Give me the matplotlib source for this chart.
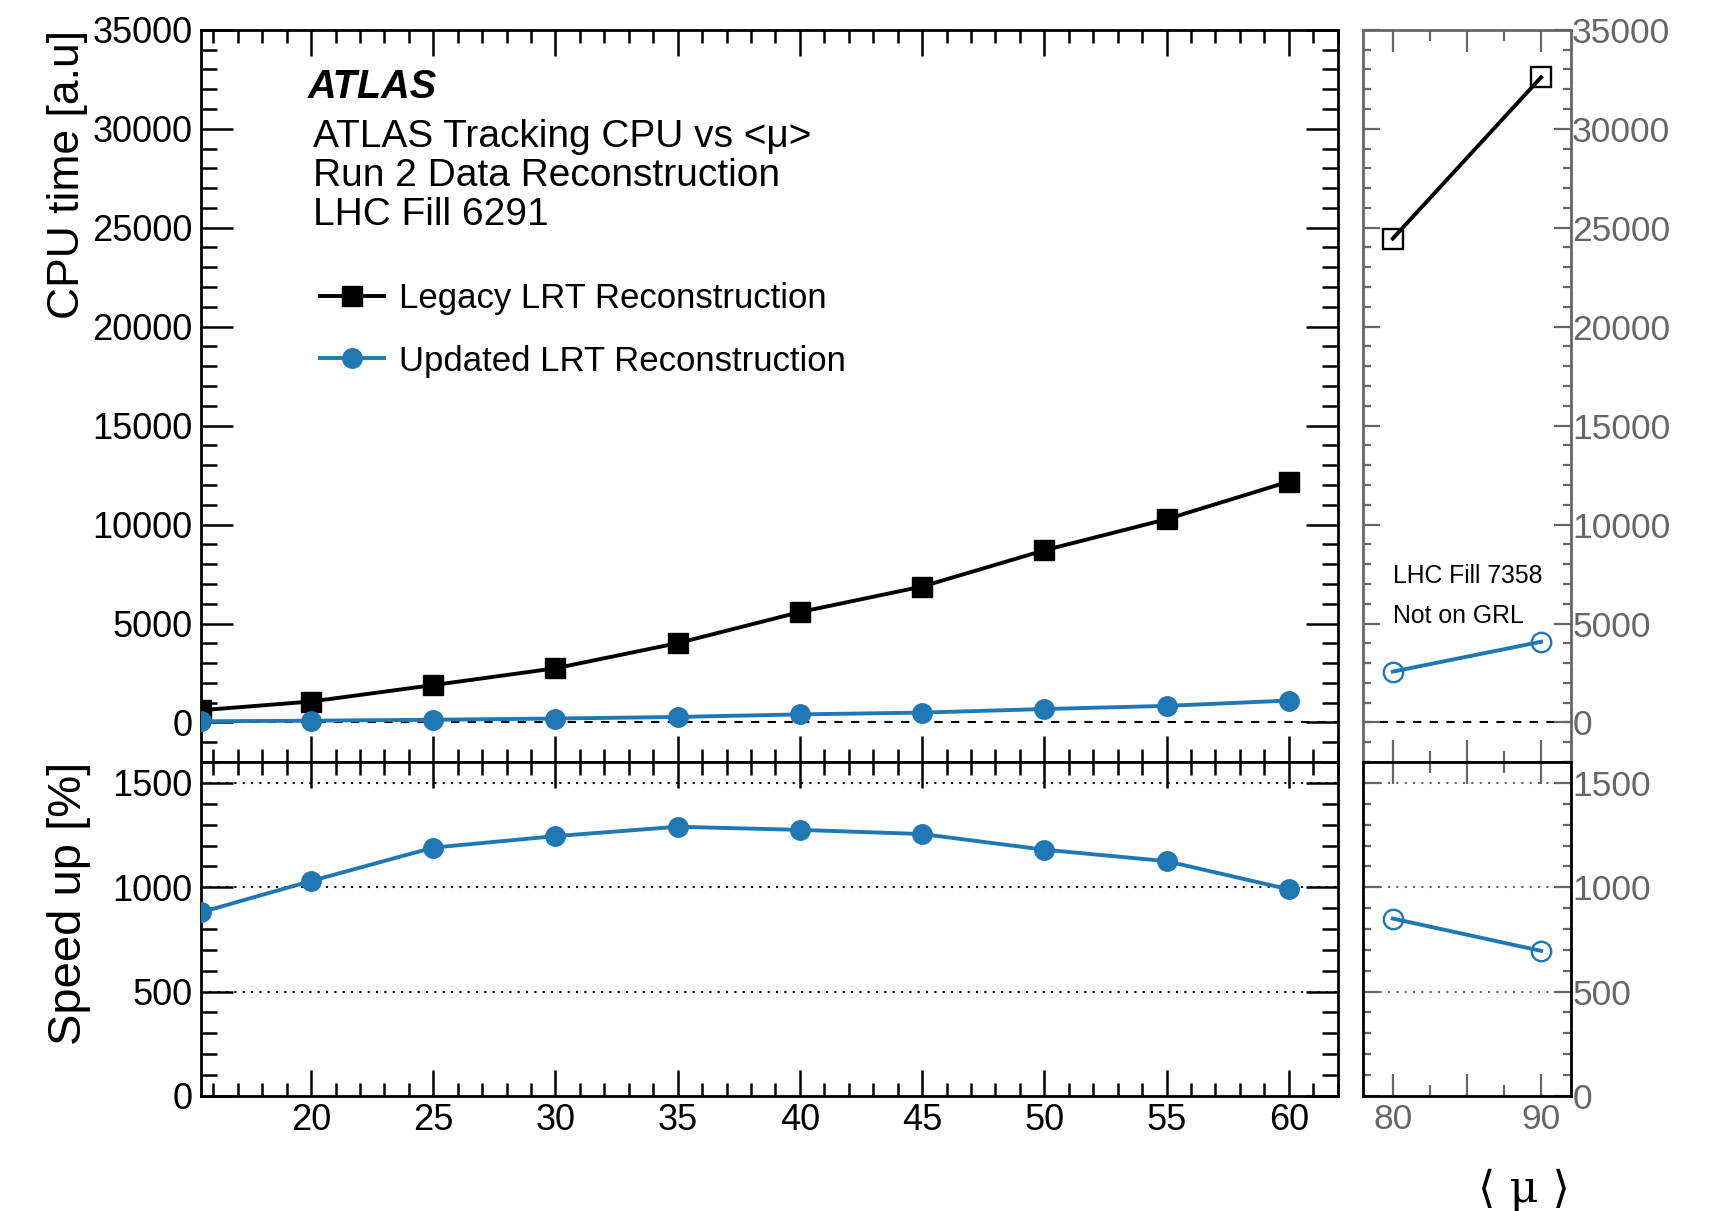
import matplotlib
matplotlib.use("Agg")
import matplotlib.pyplot as plt
from matplotlib.ticker import MultipleLocator, FixedLocator, NullFormatter

# LHC Fill 6291 scan
mu_fill6291 = [15.5, 20, 25, 30, 35, 40, 45, 50, 55, 60]
cpu_legacy = [620, 1060, 1890, 2740, 4010, 5580, 6870, 8700, 10270, 12170]
cpu_updated = [60, 90, 140, 200, 280, 410, 500, 680, 840, 1110]
speedup = [880, 1030, 1190, 1245, 1290, 1275, 1255, 1180, 1125, 990]

# LHC Fill 7358 (high pile-up)
mu_fill7358 = [80, 90]
cpu_legacy_7358 = [24450, 32600]
cpu_updated_7358 = [2570, 4080]
speedup_7358 = [850, 695]

x_ticks_main = [20, 25, 30, 35, 40, 45, 50, 55, 60]
x_ticks_high = [80, 85, 90]
x_labels_high = ["80", "", "90"]

BLUE = "#1f77b4"
GREY = "#666666"
LW = 2.8
MS = 14

plt.rcParams["font.family"] = ["Liberation Sans", "DejaVu Sans"]

fig = plt.figure(figsize=(17.32, 12.11), dpi=100)
L, W = 0.1161, 0.6562
RL, RW = 0.787, 0.1199
B_TOP, H_TOP = 0.3707, 0.6047
B_BOT, H_BOT = 0.0951, 0.2756

ax_top = fig.add_axes([L, B_TOP, W, H_TOP])
ax_bot = fig.add_axes([L, B_BOT, W, H_BOT])
ax_rtop = fig.add_axes([RL, B_TOP, RW, H_TOP])
ax_rbot = fig.add_axes([RL, B_BOT, RW, H_BOT])

# ---- main CPU panel
ax_top.axhline(0, color="black", ls=(0, (4, 4)), lw=1.5, zorder=1)
ax_top.plot(mu_fill6291, cpu_legacy, color="black", lw=LW, marker="s", ms=MS,
            label="Legacy LRT Reconstruction", zorder=3)
ax_top.plot(mu_fill6291, cpu_updated, color=BLUE, lw=LW, marker="o", ms=MS,
            label="Updated LRT Reconstruction", zorder=3)
ax_top.set_xlim(15.5, 62)
ax_top.set_ylim(-2000, 35000)

# ---- main speed-up panel
for v in (500, 1000, 1500):
    ax_bot.axhline(v, color="black", ls=(0, (1, 3)), lw=1.5, zorder=1)
ax_bot.plot(mu_fill6291, speedup, color=BLUE, lw=LW, marker="o", ms=MS, zorder=3)
ax_bot.set_xlim(15.5, 62)
ax_bot.set_ylim(0, 1600)

# ---- high pile-up panels
ax_rtop.axhline(0, color="black", ls=(0, (4, 4)), lw=1.5, zorder=1)
ax_rtop.plot(mu_fill7358, cpu_legacy_7358, color="black", lw=LW, marker="s", ms=MS,
             mfc="none", mew=1.7, zorder=3)
ax_rtop.plot(mu_fill7358, cpu_updated_7358, color=BLUE, lw=LW, marker="o", ms=MS,
             mfc="none", mew=1.7, zorder=3)
ax_rtop.set_xlim(78, 92)
ax_rtop.set_ylim(-2000, 35000)
ax_rtop.text(80, 7400, "LHC Fill 7358", fontsize=17.8, va="center", ha="left")
ax_rtop.text(80, 5400, "Not on GRL", fontsize=17.8, va="center", ha="left")

for v in (500, 1000, 1500):
    ax_rbot.axhline(v, color=GREY, ls=(0, (1, 3)), lw=1.5, zorder=1)
ax_rbot.plot(mu_fill7358, speedup_7358, color=BLUE, lw=LW, marker="o", ms=MS,
             mfc="none", mew=1.7, zorder=3)
ax_rbot.set_xlim(78, 92)
ax_rbot.set_ylim(0, 1600)

# ---- axes styling
for ax in (ax_top, ax_bot):
    for s in ax.spines.values():
        s.set_linewidth(2.0)
        s.set_color("black")
    ax.xaxis.set_major_locator(FixedLocator(x_ticks_main))
    ax.xaxis.set_minor_locator(MultipleLocator(1))
    ax.tick_params(which="both", direction="in", top=True, right=True,
                   width=1.8, colors="black", labelsize=26)
    ax.tick_params(axis="y", which="major", length=23, pad=6)
    ax.tick_params(axis="y", which="minor", length=11.5)
    ax.tick_params(axis="x", which="major", length=19, pad=5)
    ax.tick_params(axis="x", which="minor", length=9.5)

ax_top.yaxis.set_major_locator(MultipleLocator(5000))
ax_top.yaxis.set_minor_locator(MultipleLocator(1000))
ax_top.xaxis.set_major_formatter(NullFormatter())
ax_bot.yaxis.set_major_locator(MultipleLocator(500))
ax_bot.yaxis.set_minor_locator(MultipleLocator(100))

for ax, spine_col in ((ax_rtop, GREY), (ax_rbot, "black")):
    for s in ax.spines.values():
        s.set_linewidth(2.0)
        s.set_color(spine_col)
    ax.xaxis.set_major_locator(FixedLocator(x_ticks_high))
    ax.xaxis.set_minor_locator(MultipleLocator(2.5))
    ax.tick_params(which="both", direction="in", top=True, left=True, right=True,
                   labelleft=False, labelright=True, width=1.6,
                   color=GREY, labelcolor=GREY, labelsize=25.5)
    ax.tick_params(axis="y", which="major", length=12, pad=1)
    ax.tick_params(axis="y", which="minor", length=6)
    ax.tick_params(axis="x", which="major", length=16, pad=5)
    ax.tick_params(axis="x", which="minor", length=8)

ax_rtop.yaxis.set_major_locator(MultipleLocator(5000))
ax_rtop.yaxis.set_minor_locator(MultipleLocator(1000))
ax_rtop.xaxis.set_major_formatter(NullFormatter())
ax_rbot.yaxis.set_major_locator(MultipleLocator(500))
ax_rbot.yaxis.set_minor_locator(MultipleLocator(100))
ax_rbot.set_xticklabels(x_labels_high)

# ---- labels
fig.text(0.039, B_TOP + H_TOP, "CPU time [a.u]", rotation=90, ha="center", va="top",
         fontsize=32)
fig.text(0.040, B_TOP, "Speed up [%]", rotation=90, ha="center", va="top",
         fontsize=34)
fig.text(0.880, 0.018, "\u27e8 \u03bc \u27e9", ha="center", va="center", fontsize=32,
         family=["DejaVu Serif"])

# ---- annotations on main panel
ax_top.text(0.094, 0.922, "ATLAS", transform=ax_top.transAxes, fontsize=28.5,
            fontweight="bold", fontstyle="italic", va="center", ha="left")
info = ["ATLAS Tracking CPU vs <\u03bc>", "Run 2 Data Reconstruction", "LHC Fill 6291"]
for yy, line in zip((0.854, 0.800, 0.747), info):
    ax_top.text(0.0985, yy, line, transform=ax_top.transAxes, fontsize=28,
                va="center", ha="left")

ax_top.legend(loc="upper left", bbox_to_anchor=(0.1047, 0.655), frameon=False,
              prop={"size": 25}, handlelength=1.84, handletextpad=0.43,
              labelspacing=0.84, borderpad=0, borderaxespad=0, numpoints=1)

fig.savefig("out.png", dpi=100)
